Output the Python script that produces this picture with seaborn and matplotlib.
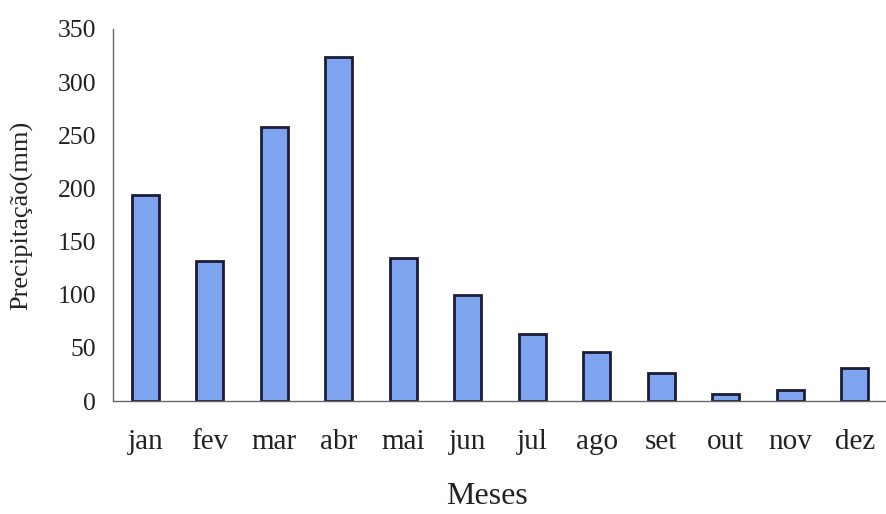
import matplotlib
matplotlib.use("Agg")
import matplotlib.pyplot as plt
import seaborn as sns
import pandas as pd
import numpy as np

meses = ["jan", "fev", "mar", "abr", "mai", "jun", "jul", "ago", "set", "out", "nov", "dez"]
precipitacao = [193.5, 132, 258, 324, 134.5, 100, 63, 46.5, 26, 6.6, 10, 31]
yticks = [0, 50, 100, 150, 200, 250, 300, 350]

df = pd.DataFrame({"Meses": meses, "Precipitacao": precipitacao})

sns.set_theme(style="white")
plt.rcParams["font.family"] = ["Liberation Serif", "DejaVu Serif"]

fig = plt.figure(figsize=(8.87, 5.14), dpi=100)
ax = fig.add_axes([113 / 887, (514 - 401) / 514, 774 / 887, 372 / 514])

sns.barplot(data=df, x="Meses", y="Precipitacao", ax=ax, color="#7ea4f0",
            width=0.42, edgecolor="#1c1c36", linewidth=2.0, saturation=1)

ax.set_ylim(0, 350)
ax.set_xlim(-0.5, 11.17)
ax.set_yticks(yticks)
ax.set_yticklabels([str(v) for v in yticks], fontsize=18.5, color="#222222")
ax.set_xticks(range(12))
ax.set_xticklabels(meses, fontsize=21, color="#222222")
ax.set_xticks(np.arange(-0.5, 12, 1), minor=True)
ax.tick_params(axis="x", which="major", length=0, pad=20)
ax.tick_params(axis="x", which="minor", length=7, width=1, color="#555555", direction="out")
ax.tick_params(axis="y", which="major", length=7, width=1, color="#555555", direction="out", pad=5)

for s in ["top", "right"]:
    ax.spines[s].set_visible(False)
for s in ["left", "bottom"]:
    ax.spines[s].set_color("#666666")
    ax.spines[s].set_linewidth(1.0)

ax.set_ylabel("Precipitação(mm)", fontsize=19, color="#222222")
ax.yaxis.set_label_coords(-0.103, 0.5)
ax.set_xlabel("Meses", fontsize=23, color="#222222")
ax.xaxis.set_label_coords(0.483, -0.218)

fig.savefig("out.png", dpi=100)
